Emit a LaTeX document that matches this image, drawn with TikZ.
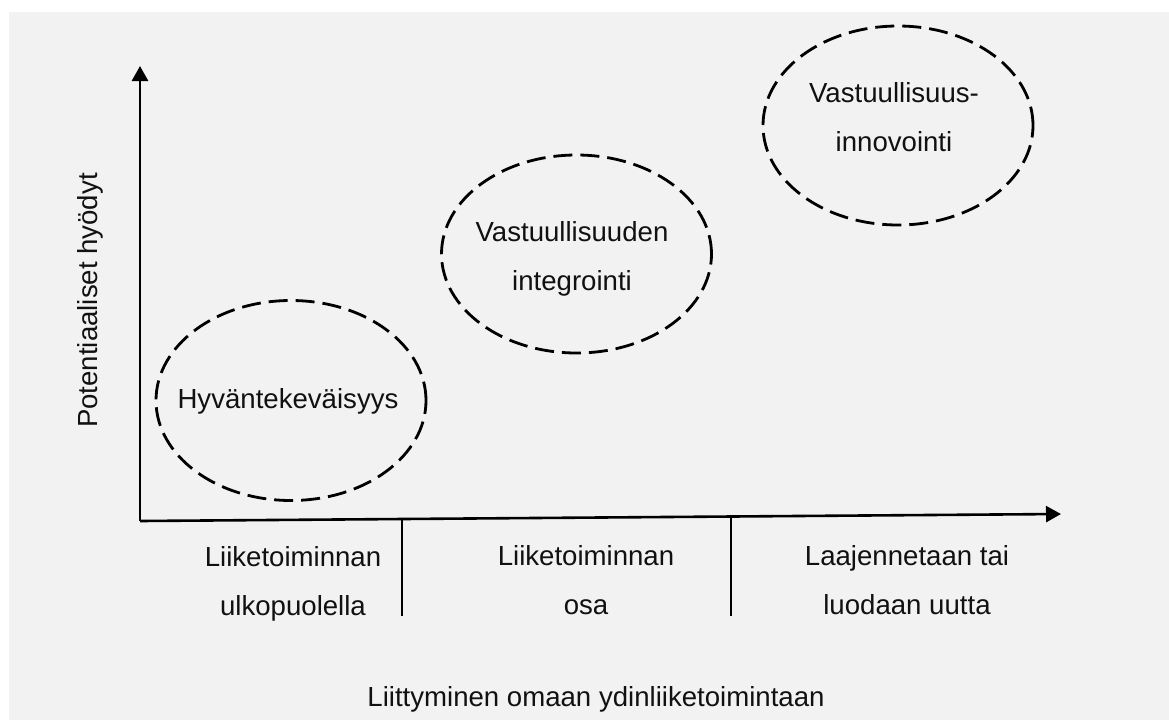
\documentclass[tikz,border=0pt]{standalone}
\usepackage{fontspec}
\setmainfont{Liberation Sans}
\usetikzlibrary{arrows.meta,shapes.geometric}
\definecolor{bggray}{HTML}{F2F2F2}
\definecolor{ink}{HTML}{111111}
\begin{document}
\begin{tikzpicture}[x=1pt,y=-1pt,
  blob/.style={draw=black, ellipse, line width=2.8pt, dash pattern=on 19pt off 8pt,
    minimum width=270pt, minimum height=200pt, inner sep=0pt},
  lbl/.style={text=ink, inner sep=0pt, font=\fontsize{27.6}{49}\selectfont, align=center},
  axis/.style={line width=2.6pt, draw=black, -{Triangle[width=16pt,length=15pt]}},
  tick/.style={line width=2.6pt, draw=black}]
\useasboundingbox (0,0) rectangle (1169,720);
\fill[white] (0,0) rectangle (1169,720);
\fill[bggray] (9,12) rectangle (1169,720);
% axes
\coordinate (O) at (140,521);
\coordinate (ytop) at (140,66);
\coordinate (xend) at (1061,514);
\coordinate (t1a) at (402,519);
\coordinate (t1b) at (402,616);
\coordinate (t2a) at (731,516.5);
\coordinate (t2b) at (731,616);
\draw[axis] (O) -- (ytop);
\draw[axis] (O) -- (xend);
\draw[tick] (t1a) -- (t1b);
\draw[tick] (t2a) -- (t2b);
% ellipses
\node[blob, minimum height=200pt] (e1) at (291,400.5) {};
\node[blob, minimum height=198pt] (e2) at (576.5,254) {};
\node[blob, minimum height=199pt] (e3) at (898,125.5) {};
% ellipse texts
\node[lbl, anchor=base] (h1) at (288,408) {Hyväntekeväisyys};
\node[lbl] (h2) at (572,259) {Vastuullisuuden\\integrointi};
\node[lbl] (h3) at (894,117) {Vastuullisuus-\\innovointi};
% column labels
\node[lbl] (c1) at (293,583.5) {Liiketoiminnan\\ulkopuolella};
\node[lbl] (c2) at (586,580.6) {Liiketoiminnan\\osa};
\node[lbl] (c3) at (907,580.6) {Laajennetaan tai\\luodaan uutta};
% axis titles
\node[lbl, anchor=base] (xt) at (596,706) {Liittyminen omaan ydinliiketoimintaan};
\node[lbl, anchor=base, rotate=90] (yt) at (97,300.5) {Potentiaaliset hyödyt};
\end{tikzpicture}
\end{document}
